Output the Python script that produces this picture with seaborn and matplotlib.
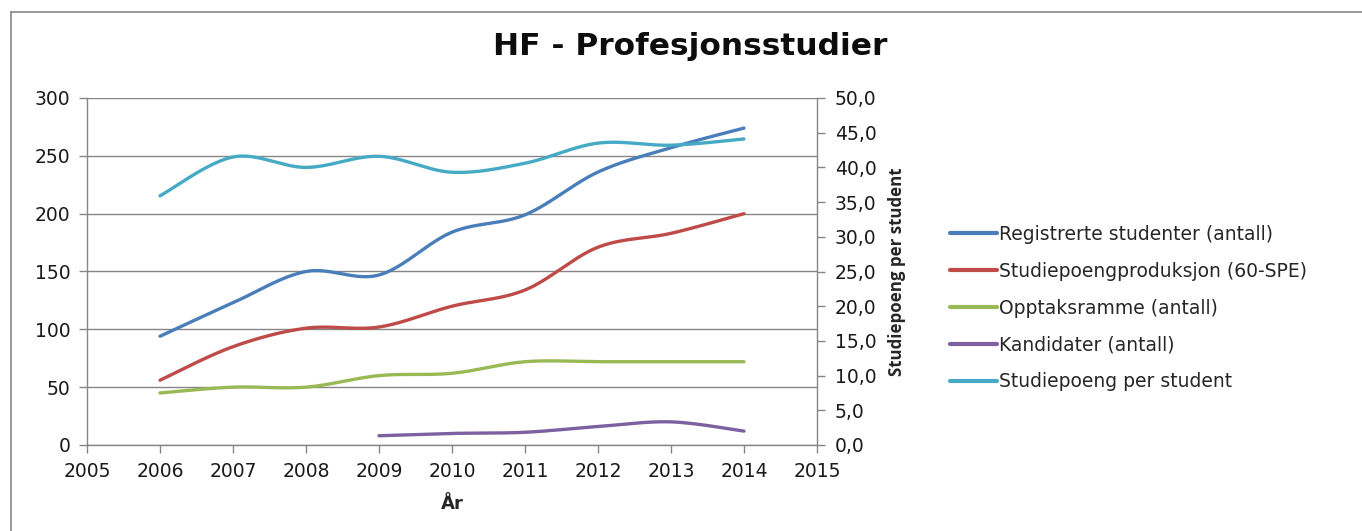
import numpy as np
import pandas as pd
import matplotlib
matplotlib.use("Agg")
import matplotlib.pyplot as plt
import matplotlib.ticker as mticker
from matplotlib.lines import Line2D
import seaborn as sns

# Data
years = [2006, 2007, 2008, 2009, 2010, 2011, 2012, 2013, 2014]
registrerte = [94, 123, 150, 147, 184, 199, 236, 257, 274]
studiepoeng_prod = [56, 85, 101, 102, 120, 134, 171, 183, 200]
opptaksramme = [45, 50, 50, 60, 62, 72, 72, 72, 72]
kandidat_years = [2009, 2010, 2011, 2012, 2013, 2014]
kandidater = [8, 10, 11, 16, 20, 12]
sp_per_student = [35.9, 41.5, 40.0, 41.6, 39.3, 40.6, 43.5, 43.2, 44.1]

labels = ["Registrerte studenter (antall)", "Studiepoengproduksjon (60-SPE)",
          "Opptaksramme (antall)", "Kandidater (antall)", "Studiepoeng per student"]
colors = ["#4a7ebb", "#be4b48", "#98b954", "#7d60a0", "#46aac5"]


def smooth(xs, ys, n=40):
    # Excel-style smoothed line (Bezier through the points)
    x = np.asarray(xs, float)
    y = np.asarray(ys, float)
    px = np.concatenate([[x[0]], x, [x[-1]]])
    py = np.concatenate([[y[0]], y, [y[-1]]])
    out_x, out_y = [], []
    t = np.linspace(0, 1, n)
    for i in range(1, len(px) - 2):
        p0 = np.array([px[i], py[i]])
        p3 = np.array([px[i + 1], py[i + 1]])
        c1 = p0 + (p3 - np.array([px[i - 1], py[i - 1]])) / 6
        c2 = p3 - (np.array([px[i + 2], py[i + 2]]) - p0) / 6
        pts = ((1 - t) ** 3)[:, None] * p0 + (3 * (1 - t) ** 2 * t)[:, None] * c1 \
            + (3 * (1 - t) * t ** 2)[:, None] * c2 + (t ** 3)[:, None] * p3
        out_x.extend(pts[:, 0])
        out_y.extend(pts[:, 1])
    return pd.DataFrame({"x": out_x, "y": out_y})


sns.set_style("white")
plt.rcParams["font.family"] = ["DejaVu Sans"]

fig = plt.figure(figsize=(13.62, 5.31), dpi=100)
ax = fig.add_axes([87 / 1362, 1 - 445 / 531, 730 / 1362, 347 / 531])
ax2 = ax.twinx()

lw = 2.4
for xs, ys, c in [(years, registrerte, colors[0]), (years, studiepoeng_prod, colors[1]),
                  (years, opptaksramme, colors[2]), (kandidat_years, kandidater, colors[3])]:
    d = smooth(xs, ys)
    sns.lineplot(data=d, x="x", y="y", ax=ax, color=c, lw=lw, sort=False,
                 solid_capstyle="round", estimator=None)
d = smooth(years, sp_per_student)
sns.lineplot(data=d, x="x", y="y", ax=ax2, color=colors[4], lw=lw, sort=False,
             solid_capstyle="round", estimator=None)

grey = "#868686"
ax.set_xlim(2005, 2015)
ax.set_ylim(0, 300)
ax2.set_ylim(0, 50)
ax.set_xticks(range(2005, 2016))
ax.set_yticks(range(0, 301, 50))
ax2.set_yticks(np.arange(0, 50.1, 5))
ax2.yaxis.set_major_formatter(mticker.FuncFormatter(lambda v, p: f"{v:.1f}".replace(".", ",")))
ax.yaxis.grid(True, color=grey, lw=1)
ax.set_axisbelow(True)

for a in (ax, ax2):
    a.spines["top"].set_visible(False)
    for s in ("left", "right", "bottom"):
        a.spines[s].set_color(grey)
        a.spines[s].set_linewidth(1)
    a.tick_params(axis="both", colors=grey, labelcolor="#1a1a1a", labelsize=13.5,
                  length=6, width=1, direction="out")
ax.tick_params(axis="y", left=True, pad=6)
ax.tick_params(axis="x", bottom=True, pad=6)
ax2.tick_params(axis="y", right=True, pad=7)
ax.spines["right"].set_visible(False)
ax2.spines["left"].set_visible(False)
ax2.spines["bottom"].set_visible(False)

ax.set_xlabel("År", fontsize=13, fontweight="bold", labelpad=10)
ax.set_ylabel("")
ax2.set_ylabel("Studiepoeng per student", fontsize=12.2, fontweight="bold", labelpad=8,
               family=["Open Sans", "DejaVu Sans"], fontstretch="condensed")

fig.text(0.507, 0.912, "HF - Profesjonsstudier", ha="center", va="center",
         fontsize=22.5, fontweight="bold", color="#0d0d0d")

handles = [Line2D([], [], color=c, lw=3) for c in colors]
fig.legend(handles, labels, loc="center left", bbox_to_anchor=(950 / 1362, 1 - 308 / 531),
           frameon=False, fontsize=13.5, handlelength=2.5, handletextpad=0.1,
           labelspacing=0.95, borderaxespad=0, borderpad=0)

# chart area border (left and top edges visible in the reference)
fig.add_artist(plt.Line2D([11 / 1362, 11 / 1362], [0, 1 - 12 / 531], color=grey, lw=1.2,
                          transform=fig.transFigure))
fig.add_artist(plt.Line2D([11 / 1362, 1], [1 - 12 / 531, 1 - 12 / 531], color=grey, lw=1.2,
                          transform=fig.transFigure))

fig.savefig("out.png", dpi=100)
